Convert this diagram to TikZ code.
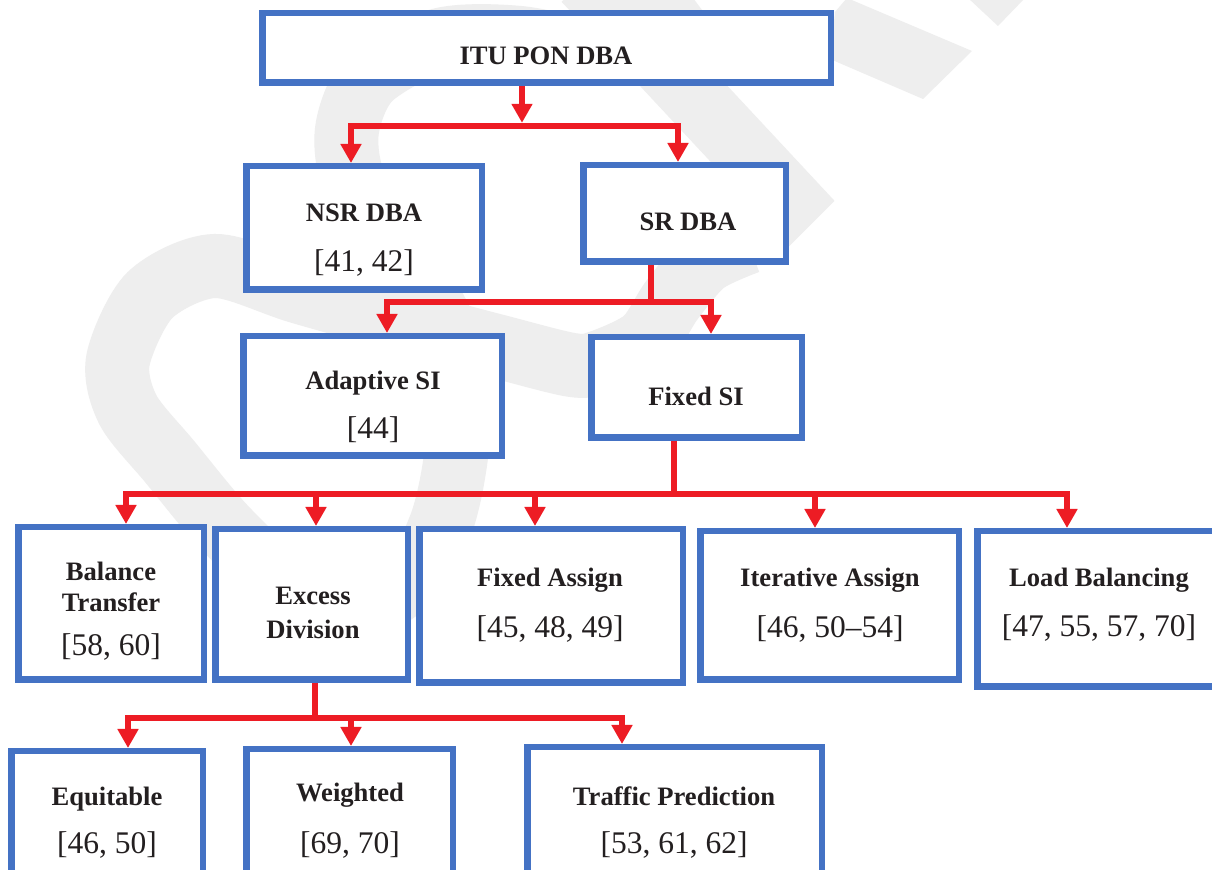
\documentclass[tikz,border=0pt]{standalone}
\usepackage{fontspec}
\setmainfont{Liberation Serif}
\usetikzlibrary{arrows.meta}
\definecolor{boxblue}{RGB}{68,114,196}
\definecolor{linered}{RGB}{237,28,36}
\definecolor{wm}{RGB}{238,238,238}
\definecolor{ink}{RGB}{35,31,32}
\begin{document}
\begin{tikzpicture}[x=0.5pt,y=-0.5pt,
  box/.style={draw=boxblue, line width=3.25pt, fill=white, inner sep=0pt},
  lbl/.style={text=ink, font=\fontsize{13.3pt}{16pt}\selectfont\bfseries, anchor=base, inner sep=0pt},
  ref/.style={text=ink, font=\fontsize{15.75pt}{18pt}\selectfont, anchor=base, inner sep=0pt},
  conn/.style={draw=linered, line width=3.25pt},
  arr/.style={conn, -{Triangle[width=10pt,length=9.5pt]}},
  wmline/.style={draw=wm, line width=32pt}
]
\clip (0,0) rectangle (1212,870);
\fill[white] (0,0) rectangle (1212,870);

% ---- watermark ----
\draw[wmline, line join=miter] (585,-20) -- (790,200) -- (748,242);
\draw[wmline] plot[smooth, tension=0.5] coordinates {(748,242) (705,262) (672,300) (645,340) (600,362) (572,365) (500,347) (421,326) (300,292) (215,266) (150,295) (118,360) (128,410) (170,462) (224,527) (290,590) (340,620) (410,580) (440,527) (454,470) (460,400) (445,330) (400,250) (355,185) (347,130) (370,78) (440,40) (520,38) (600,55)};
\fill[wm] (643,-2) -- (693,-2) -- (705,14) -- (655,14) -- cycle;
\fill[wm] (847,-2) -- (972,51) -- (923,99) -- (830,59) -- (835,12) -- cycle;
\fill[wm] (968,-2) -- (1025,-2) -- (998,26) -- cycle;

% ---- boxes ----
\node[box, minimum width=284.25pt, minimum height=34.75pt] (itu) at (546.5,48) {};
\node[box, minimum width=117.75pt, minimum height=61.75pt] (nsr) at (364,228) {};
\node[box, minimum width=101.25pt, minimum height=48.25pt] (sr) at (684.5,213.5) {};
\node[box, minimum width=129.25pt, minimum height=59.75pt] (adap) at (372.5,396) {};
\node[box, minimum width=105.25pt, minimum height=50.25pt] (fsi) at (696.5,387.5) {};
\node[box, minimum width=92.75pt, minimum height=76.25pt] (bal) at (111,603.5) {};
\node[box, minimum width=96.25pt, minimum height=75.25pt] (exc) at (311.5,604.5) {};
\node[box, minimum width=131.75pt, minimum height=76.75pt] (fas) at (551,606) {};
\node[box, minimum width=129.25pt, minimum height=74.25pt] (ias) at (829.5,605.5) {};
\node[box, minimum width=121.75pt, minimum height=77.75pt] (lb) at (1099,609) {};
\node[box, minimum width=95.75pt, minimum height=70.25pt] (equ) at (107,821.5) {};
\node[box, minimum width=103.25pt, minimum height=71.25pt] (wei) at (349.5,820.5) {};
\node[box, minimum width=147.25pt, minimum height=72.25pt] (tra) at (674.5,819.5) {};

% ---- connectors ----
\coordinate (j1) at (522,126);
\coordinate (d1) at (351,0);
\coordinate (d2) at (678,0);
\draw[arr, shorten >=1.6pt] (itu.south -| j1) -- (j1);
\draw[arr] (j1) -| (nsr.north -| d1);
\draw[arr] (j1) -| (sr.north -| d2);

\coordinate (j2) at (651,302);
\coordinate (d3) at (387,0);
\coordinate (d4) at (711,0);
\draw[conn] (sr.south -| j2) -- (j2);
\draw[arr] (j2) -| (adap.north -| d3);
\draw[arr] (j2) -| (fsi.north -| d4);

\coordinate (j3) at (674,494);
\coordinate (d5) at (126,0);
\coordinate (d6) at (316,0);
\coordinate (d7) at (535,0);
\coordinate (d8) at (815,0);
\coordinate (d9) at (1067,0);
\draw[conn] (fsi.south -| j3) -- (j3);
\draw[arr] (j3) -| (bal.north -| d5);
\draw[arr] (j3) -| (exc.north -| d6);
\draw[arr] (j3) -| (fas.north -| d7);
\draw[arr] (j3) -| (ias.north -| d8);
\draw[arr] (j3) -| (lb.north -| d9);

\coordinate (j4) at (315,718);
\coordinate (d10) at (128,0);
\coordinate (d11) at (351,0);
\coordinate (d12) at (622,0);
\draw[conn] (exc.south -| j4) -- (j4);
\draw[arr] (j4) -| (equ.north -| d10);
\draw[arr] (j4) -| (wei.north -| d11);
\draw[arr] (j4) -| (tra.north -| d12);

% ---- texts ----
\node[lbl] (t-itu) at (546,65) {ITU PON DBA};
\node[lbl] (t-nsr) at (364,222) {NSR DBA};
\node[ref] (r-nsr) at (364,271.5) {[41, 42]};
\node[lbl] (t-sr) at (688,231) {SR DBA};
\node[lbl] (t-adap) at (373,390) {Adaptive SI};
\node[ref] (r-adap) at (373,438.5) {[44]};
\node[lbl] (t-fsi) at (696,406) {Fixed SI};
\node[lbl] (t-bal1) at (111,581) {Balance};
\node[lbl] (t-bal2) at (111,612) {Transfer};
\node[ref] (r-bal) at (111,655.5) {[58, 60]};
\node[lbl] (t-exc1) at (313,605) {Excess};
\node[lbl] (t-exc2) at (313,639) {Division};
\node[lbl] (t-fas) at (550,587) {Fixed Assign};
\node[ref] (r-fas) at (550,637.5) {[45, 48, 49]};
\node[lbl] (t-ias) at (830,587) {Iterative Assign};
\node[ref] (r-ias) at (830,637.5) {[46, 50–54]};
\node[lbl] (t-lb) at (1099,587) {Load Balancing};
\node[ref] (r-lb) at (1099,636.5) {[47, 55, 57, 70]};
\node[lbl] (t-equ) at (107,806) {Equitable};
\node[ref] (r-equ) at (107,853.5) {[46, 50]};
\node[lbl] (t-wei) at (350,802) {Weighted};
\node[ref] (r-wei) at (350,853.5) {[69, 70]};
\node[lbl] (t-tra) at (674,806) {Traffic Prediction};
\node[ref] (r-tra) at (674,853.5) {[53, 61, 62]};
\end{tikzpicture}
\end{document}
